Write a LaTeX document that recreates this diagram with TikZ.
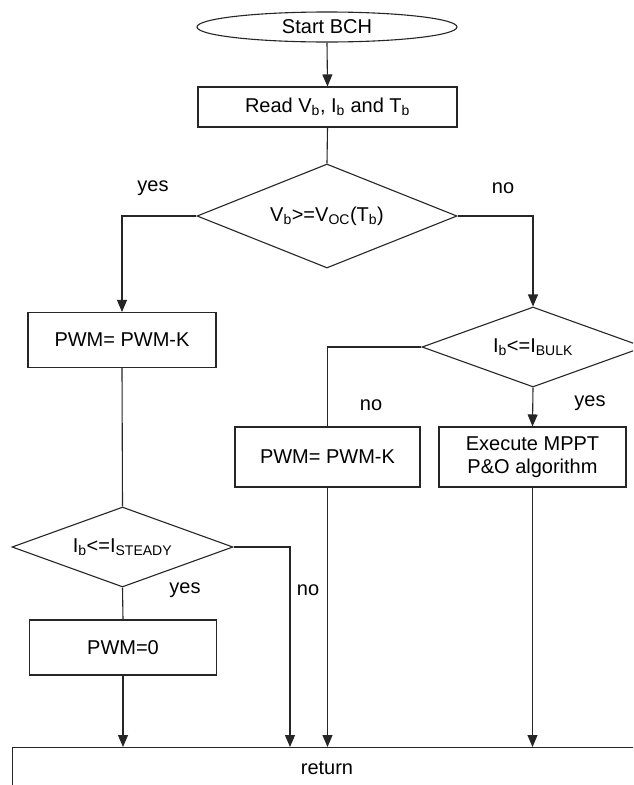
\documentclass[tikz,border=0pt]{standalone}
\usepackage{fontspec}
\setmainfont{Liberation Sans}
\usetikzlibrary{shapes.geometric,arrows.meta}
\newcommand\sbs[1]{\textsubscript{#1}}
\tikzset{
  base/.style={draw=black!85, line width=1.1pt, inner sep=0pt, font=\fontsize{20}{23}\selectfont},
  procbox/.style={base, rectangle, align=center},
  decis/.style={base, diamond, aspect=3},
  termin/.style={base, ellipse},
  conn/.style={draw=black!85, line width=1.1pt},
  arr/.style={conn, -{Triangle[width=10pt,length=12pt]}},
  lbl/.style={font=\fontsize{20}{23}\selectfont, inner sep=0pt}
}
\begin{document}
\begin{tikzpicture}[x=1pt,y=-1pt]
\clip (0,0) rectangle (633,785);
\fill[white] (0,0) rectangle (633,785);

\node[termin, minimum width=260, minimum height=30] (start) at (327,27) {Start BCH};
\node[procbox, minimum width=259, minimum height=40] (read) at (327.5,107) {Read V\sbs{b}, I\sbs{b} and T\sbs{b}};
\node[decis, minimum width=260, minimum height=104] (d1) at (327,216) {V\sbs{b}>=V\sbs{OC}(T\sbs{b})};
\node[procbox, minimum width=188, minimum height=55] (lpwm) at (122,340) {PWM= PWM-K};
\node[decis, minimum width=222, minimum height=80] (d2) at (533,347) {I\sbs{b}<=I\sbs{BULK}};
\node[procbox, minimum width=185, minimum height=60] (mpwm) at (327.5,457) {PWM= PWM-K};
\node[procbox, minimum width=187, minimum height=60] (mppt) at (532.5,457) {Execute MPPT\\P\&O algorithm};
\node[decis, minimum width=221, minimum height=80] (d3) at (122.5,547) {I\sbs{b}<=I\sbs{STEADY}};
\node[procbox, minimum width=187, minimum height=55] (zero) at (123,647.5) {PWM=0};
\node[procbox, minimum width=660, minimum height=60, anchor=north west] (ret) at (12,747) {};
\node[lbl] (rettxt) at (327,768) {return};

\coordinate (r1) at (290,747);

\draw[arr] (start.south) -- (read.north);
\draw[conn] (read.south) -- (d1.north);
\draw[arr] (d1.west) -| (lpwm.north);
\draw[arr] (d1.east) -| (d2.north);
\draw[conn] (lpwm.south) -- (d3.north);
\draw[conn] (d2.west) -| (mpwm.north);
\draw[arr] (d2.south) -- (mppt.north);
\draw[arr] (d3.east) -| (r1);
\draw[conn] (d3.south) -- (zero.north);
\draw[arr] (zero.south) -- (zero.south |- ret.north);
\draw[arr] (mpwm.south) -- (mpwm.south |- ret.north);
\draw[arr] (mppt.south) -- (mppt.south |- ret.north);

\node[lbl] (y1) at (153,188) {yes};
\node[lbl] (n1) at (503,188) {no};
\node[lbl] (n2) at (371,405) {no};
\node[lbl] (y2) at (590,403) {yes};
\node[lbl] (y3) at (185,590) {yes};
\node[lbl] (n3) at (308,590) {no};
\end{tikzpicture}
\end{document}
